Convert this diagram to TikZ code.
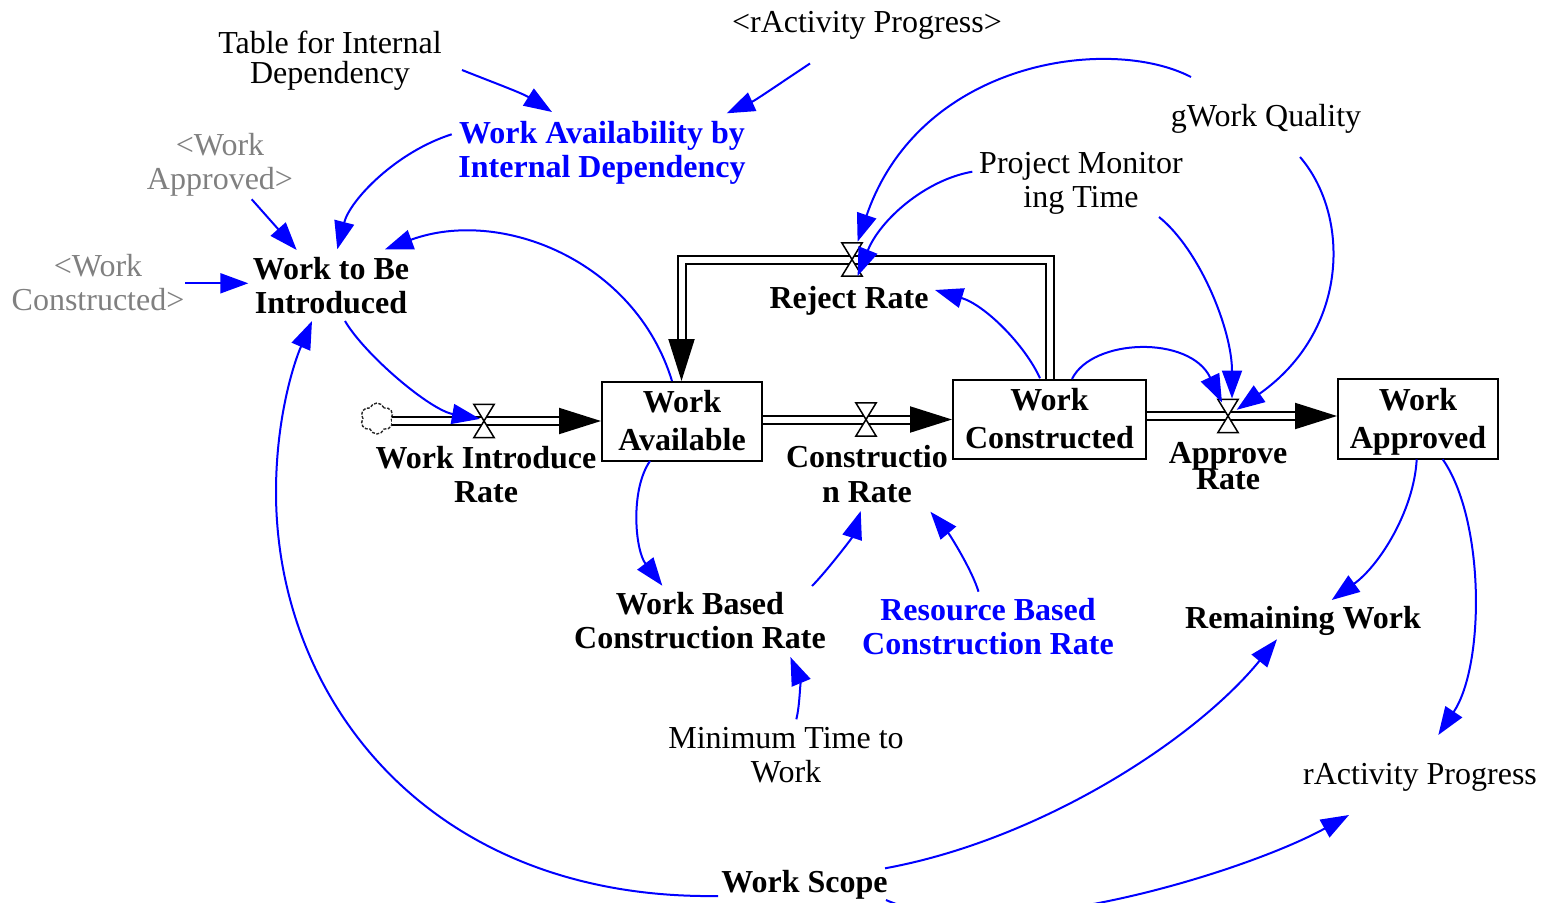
\documentclass[tikz,border=0pt]{standalone}
\usepackage{fontspec}
\setmainfont{Liberation Serif}
\usetikzlibrary{arrows.meta,shapes.symbols}
\definecolor{linkblue}{RGB}{0,0,255}
\definecolor{shadowgray}{RGB}{128,128,128}
% hourglass valve drawn over a flow pipe
\newcommand\drawvalve[1]{\draw[valveline] (#1.north west) -- (#1.north east) -- (#1.south west) -- (#1.south east) -- cycle;}
\begin{document}
\begin{tikzpicture}[x=1pt,y=-1pt,
  txt/.style={inner sep=0pt, align=center, font=\fontsize{32}{34}\selectfont,
    execute at begin node=\strut, execute at end node=\strut},
  btxt/.style={txt, font=\fontsize{32}{34}\selectfont\bfseries},
  shadow/.style={txt, text=shadowgray},
  stock/.style={draw, line width=2pt, inner sep=0pt},
  stocktxt/.style={txt, font=\fontsize{32}{38}\selectfont\bfseries},
  valve/.style={inner sep=0pt, minimum width=20pt, minimum height=33pt},
  valveline/.style={draw=black, line width=1.5pt, fill=white, line join=miter},
  pipe/.style={draw=black, line width=2pt, double=white, double distance=6pt, line join=miter},
  ptip/.style={draw=black, line width=2pt, -{Triangle[length=42pt,width=26pt]}},
  link/.style={draw=linkblue, line width=2pt, -{Triangle[length=28pt,width=20pt]}},
]
\useasboundingbox (0,0) rectangle (1544,902);

% auxiliary and constant variables
\node[txt, font=\fontsize{32}{30}\selectfont] (tfid) at (330,62) {Table for Internal\\Dependency};
\node[btxt, text=linkblue] (wai) at (602,154) {Work Availability by\\Internal Dependency};
\node[txt] (rap) at (867,25.5) {<rActivity Progress>};
\node[shadow] (wap) at (220,166) {<Work\\Approved>};
\node[shadow] (wcs) at (98,287) {<Work\\Constructed>};
\node[btxt] (wtbi) at (331,290) {Work to Be\\Introduced};
\node[txt] (gwq) at (1266,119.5) {gWork Quality};
\node[txt] (pmt) at (1081,185) {Project Monitor\\ing Time};
\node[btxt] (rr) at (849,301.5) {Reject Rate};
\node[btxt] (wir) at (486,479) {Work Introduce\\Rate};
\node[btxt, font=\fontsize{32}{35}\selectfont\bfseries] (cr) at (867,479) {Constructio\\n Rate};
\node[btxt, font=\fontsize{32}{26}\selectfont\bfseries,
  execute at begin node={\lineskiplimit=-100pt\relax}] (ar) at (1228,469.5) {Approve\\Rate};
\node[btxt] (wbcr) at (700,625) {Work Based\\Construction Rate};
\node[btxt, text=linkblue] (rbcr) at (988,631) {Resource Based\\Construction Rate};
\node[txt] (mtw) at (786,760) {Minimum Time to\\Work};
\node[btxt] (rw) at (1303,622) {Remaining Work};
\node[txt] (rapv) at (1420,777.5) {rActivity Progress};
\node[btxt] (ws) at (804.5,886) {Work Scope};

% stocks
\node[stock, minimum width=160pt, minimum height=79pt] (wa) at (682,421.5) {};
\node[stock, minimum width=193pt, minimum height=79pt] (wc) at (1049.5,419.5) {};
\node[stock, minimum width=160pt, minimum height=80pt] (wapb) at (1418,419) {};
\node[stocktxt] (wa-t) at ([shift={(0,5)}]wa.center) {Work\\Available};
\node[stocktxt] (wc-t) at ([shift={(0,5)}]wc.center) {Work\\Constructed};
\node[stocktxt] (wapb-t) at ([shift={(0,5.5)}]wapb.center) {Work\\Approved};

% source cloud and valves
\node[cloud, cloud puffs=6, cloud puff arc=140, aspect=1.1, draw=black!85,
  dash pattern=on 3pt off 1.5pt, line width=1.4pt,
  minimum width=33pt, minimum height=31pt, inner sep=0pt] (src) at (377,418.5) {};
\node[valve] (v1) at (484,421) {};
\node[valve] (v2) at (866,419.5) {};
\node[valve] (v3) at (1228,416) {};
\node[valve] (v4) at (852,259.5) {};

% pipe end points
\coordinate (p1s) at (src.east |- v1);
\coordinate (p1e) at (wa.west |- v1);
\coordinate (p2s) at (wa.east |- v2);
\coordinate (p2e) at (wc.west |- v2);
\coordinate (p3s) at (wc.east |- v3);
\coordinate (p3e) at (wapb.west |- v3);
\coordinate (p4s) at ([xshift=0.5pt]wc.north);
\coordinate (p4e) at ([xshift=-0.5pt]wa.north);

% flows
\draw[pipe, shorten >=40pt] (p1s) -- (p1e);
\draw[ptip] ([shift={(-42,0)}]p1e) -- (p1e);
\draw[pipe, shorten >=40pt] (p2s) -- (p2e);
\draw[ptip] ([shift={(-42,0)}]p2e) -- (p2e);
\draw[pipe, shorten >=40pt] (p3s) -- (p3e);
\draw[ptip] ([shift={(-42,0)}]p3e) -- (p3e);
\draw[pipe, shorten >=40pt] (p4s) |- (v4.center) -| (p4e);
\draw[ptip] ([shift={(0,-42)}]p4e) -- (p4e);
\drawvalve{v1}
\drawvalve{v2}
\drawvalve{v3}
\drawvalve{v4}

% causal links
\draw[link] ([shift={(132,8)}]tfid.center) .. controls (492,82) and (522,93) .. ([shift={(-50,-42)}]wai.center);
\draw[link] ([shift={(-57,38)}]rap.center) .. controls (785,80) and (756,100) .. ([shift={(124.7,-40.7)}]wai.center);
\draw[link] ([shift={(-150.3,-19.7)}]wai.center) .. controls (396,152) and (350,200) .. ([shift={(6.3,-40.7)}]wtbi.center);
\draw[link] ([shift={(31.7,33.3)}]wap.center) -- ([shift={(-34.3,-40)}]wtbi.center);
\draw[link] ([shift={(87,-3.7)}]wcs.center) -- ([shift={(-82.7,-6.7)}]wtbi.center);
\draw[link] ([shift={(-10,-40.5)}]wa.center) .. controls (635,260) and (500,207) .. ([shift={(54,-40.7)}]wtbi.center);
\draw[link] ([shift={(14,31)}]wtbi.center) .. controls (365,355) and (430,410) .. ([shift={(-4,-2.1)}]v1.center);
\draw[link] ([shift={(-86.5,10)}]ws.center) .. controls (430,900) and (276,700) .. (276,492)
  .. controls (276,420) and (293,365) .. ([shift={(-19,31)}]wtbi.center);
\draw[link] ([shift={(80.5,-17.7)}]ws.center) .. controls (1040,840) and (1195,740) .. ([shift={(-26,17.3)}]rw.center);
\draw[link] ([shift={(81.5,14)}]ws.center) .. controls (1000,950) and (1250,870) .. ([shift={(-71,37.5)}]rapv.center);
\draw[link] ([shift={(-32,39.5)}]wa.center) .. controls (630,490) and (635,550) .. ([shift={(-37.7,-39.3)}]wbcr.center);
\draw[link] ([shift={(112,-39)}]wbcr.center) .. controls (826,572) and (852,538) .. ([shift={(-6.3,32)}]cr.center);
\draw[link] ([shift={(-9.5,-39.3)}]rbcr.center) .. controls (972,570) and (950,535) .. ([shift={(63.4,32.7)}]cr.center);
\draw[link] ([shift={(10.3,-40.7)}]mtw.center) .. controls (800,705) and (800,680) .. ([shift={(90.4,32)}]wbcr.center);
\draw[link] ([shift={(-9.5,-41.2)}]wc.center) .. controls (1025,345) and (985,305) .. ([shift={(86,-11.5)}]rr.center);
\draw[link] ([shift={(-75,-42.5)}]gwq.center) .. controls (1110,35) and (920,60) .. ([shift={(5.6,-17.8)}]v4.center);
\draw[link] ([shift={(-108.7,-13.3)}]pmt.center) .. controls (925,180) and (880,220) .. ([shift={(5.6,16.5)}]v4.center);
\draw[link] ([shift={(22.5,-40.5)}]wc.center) .. controls (1092,338) and (1190,335) .. ([shift={(-6,-13.5)}]v3.center);
\draw[link] ([shift={(78,32)}]pmt.center) .. controls (1200,250) and (1232,330) .. ([shift={(4,-17.5)}]v3.center);
\draw[link] ([shift={(34,37.5)}]gwq.center) .. controls (1350,215) and (1350,330) .. ([shift={(8.7,-6.2)}]v3.center);
\draw[link] ([shift={(-1.3,40.3)}]wapb.center) .. controls (1414,510) and (1380,565) .. ([shift={(28.7,-22)}]rw.center);
\draw[link] ([shift={(24.7,40.3)}]wapb.center) .. controls (1485,520) and (1485,665) .. ([shift={(18.3,-42.5)}]rapv.center);
\end{tikzpicture}
\end{document}
